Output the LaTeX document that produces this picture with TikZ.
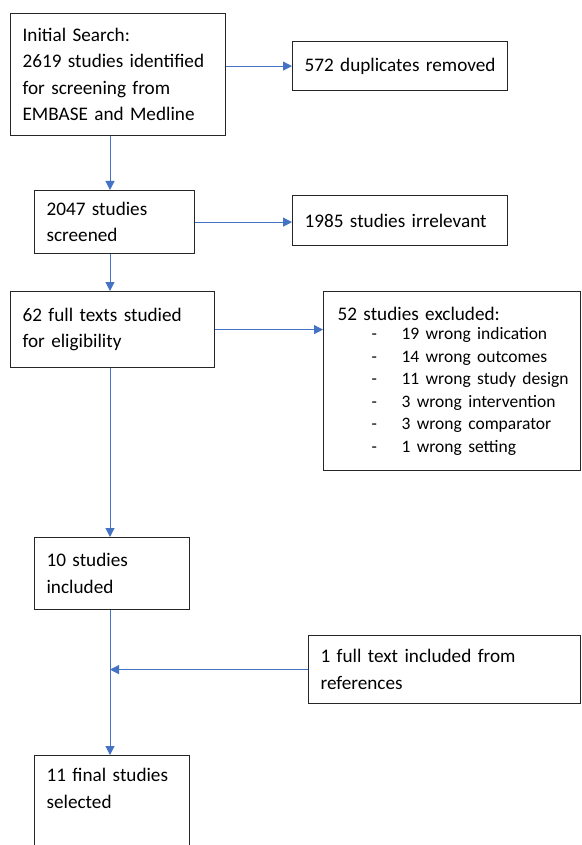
\documentclass[tikz,border=0pt]{standalone}
\usepackage{fontspec}
\setmainfont{Carlito}
\usetikzlibrary{arrows.meta}
\definecolor{arrblue}{HTML}{4472C4}
\tikzset{
  box/.style={draw=black!85, line width=1.2pt, anchor=north west, align=left,
    inner xsep=12pt, inner ysep=0pt, font=\fontsize{19.2}{26.5}\selectfont},
  arr/.style={draw=arrblue, line width=1pt, -{Triangle[width=9pt,length=9pt]}},
}
\newcommand{\exitem}[1]{\hspace*{34pt}\makebox[30pt][l]{-}\mbox{#1}}
\begin{document}
\begin{tikzpicture}[x=1pt,y=-1pt]
\clip (0,0) rectangle (581,845);
\fill[white] (0,0) rectangle (581,845);
\coordinate (spine) at (110,0);
\node[box, minimum width=215pt, minimum height=122pt, text width=191pt] (b1) at (10,13)
  {Initial Search:\\\mbox{2619 studies identified}\\for screening from\\\mbox{EMBASE and Medline}};
\node[box, minimum width=215pt, minimum height=49pt, text width=191pt] (dup) at (292,41)
  {\mbox{572 duplicates removed}};
\node[box, minimum width=160pt, minimum height=63pt, text width=136pt] (b2) at (34,190)
  {2047 studies\\screened};
\node[box, minimum width=215pt, minimum height=50pt, text width=191pt] (irr) at (292,195)
  {\mbox{1985 studies irrelevant}};
\node[box, minimum width=204pt, minimum height=76pt, text width=180pt] (b3) at (10,291)
  {\mbox{62 full texts studied}\\for eligibility};
\node[box, minimum width=257pt, minimum height=179pt, text width=229pt, inner xsep=14pt] (ex) at (323,291)
  {\mbox{52 studies excluded:}\\[-3pt]
   {\fontsize{17.5}{22.5}\selectfont
   \exitem{19 wrong indication}\\
   \exitem{14 wrong outcomes}\\
   \exitem{11 wrong study design}\\
   \exitem{3 wrong intervention}\\
   \exitem{3 wrong comparator}\\
   \exitem{1 wrong setting}\par}};
\node[box, minimum width=155pt, minimum height=72pt, text width=131pt] (b4) at (34,537)
  {10 studies\\included};
\node[box, minimum width=272pt, minimum height=68pt, text width=248pt] (refs) at (308,635)
  {\mbox{1 full text included from}\\references};
\node[box, minimum width=155pt, minimum height=130pt, text width=131pt] (b5) at (34,755)
  {\parbox[t][126pt][t]{131pt}{\vspace{11pt}\mbox{11 final studies}\\selected}};
\draw[arr] (b1.east |- dup.west) -- (dup.west);
\draw[arr] (b2.east) -- (b2.east -| irr.west);
\draw[arr] (b3.east) -- (b3.east -| ex.west);
\draw[arr] (b1.south -| spine) -- (b2.north -| spine);
\draw[arr] (b2.south -| spine) -- (b3.north -| spine);
\draw[arr] (b3.south -| spine) -- (b4.north -| spine);
\draw[arr] (b4.south -| spine) -- (b5.north -| spine);
\draw[arr] (refs.west) -- (refs.west -| spine);
\end{tikzpicture}
\end{document}
